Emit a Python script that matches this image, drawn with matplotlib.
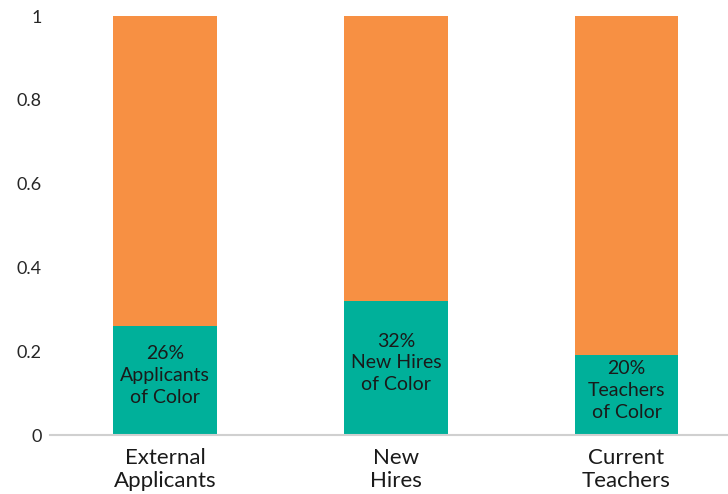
import numpy as np
import matplotlib.pyplot as plt

categories = ['External\nApplicants', 'New\nHires', 'Current\nTeachers']
of_color = [0.26, 0.32, 0.19]
bar_labels = ['26%\nApplicants\nof Color', '32%\nNew Hires\nof Color', '20%\nTeachers\nof Color']
yticks = [0, 0.2, 0.4, 0.6, 0.8, 1]
ytick_labels = ['0', '0.2', '0.4', '0.6', '0.8', '1']

teal = '#00B09A'
orange = '#F79043'

plt.rcParams['font.family'] = ['Lato', 'DejaVu Sans']

fig = plt.figure(figsize=(7.28, 4.94), dpi=100)
ax = fig.add_axes([50 / 728, 59 / 494, 678 / 728, 419 / 494])

x = np.arange(len(categories))
rest = [1 - v for v in of_color]
ax.bar(x, of_color, width=0.45, color=teal, zorder=2)
ax.bar(x, rest, width=0.45, bottom=of_color, color=orange, zorder=2)

# labels inside the teal part
for xi, v, lab in zip(x, of_color, bar_labels):
    ax.text(xi, v / 2 + 0.012, lab, ha='center', va='center', fontsize=14,
            color='#1a1a1a', linespacing=1.35)

ax.set_xlim(-0.5, 2.44)
ax.set_ylim(0, 1)
ax.set_yticks(yticks)
ax.set_yticklabels(ytick_labels, fontsize=13, color='#262626')
ax.set_xticks(x)
ax.set_xticklabels(categories, fontsize=16, color='#1a1a1a', linespacing=1.2)
ax.tick_params(axis='both', length=0)
ax.tick_params(axis='y', pad=6)
ax.tick_params(axis='x', pad=9)

for s in ['top', 'right', 'left']:
    ax.spines[s].set_visible(False)
ax.spines['bottom'].set_color('#d0d0d0')
ax.spines['bottom'].set_linewidth(1.5)
ax.spines['bottom'].set_zorder(3)

fig.savefig('out.png', dpi=100)
